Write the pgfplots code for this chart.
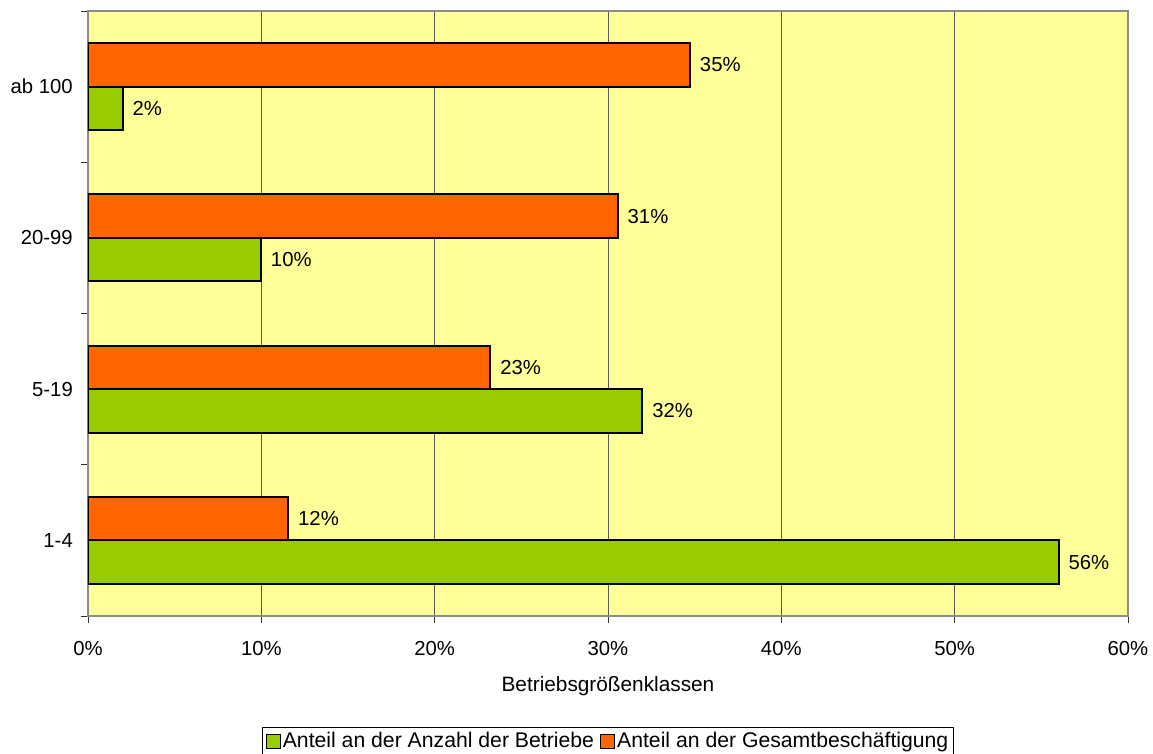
\documentclass[border=0pt]{standalone}
\usepackage{fontspec}
\setmainfont{Liberation Sans}
\usepackage{pgfplots}
\pgfplotsset{compat=1.18}

\definecolor{plotbg}{HTML}{FFFF99}
\definecolor{barGreen}{HTML}{99CC00}
\definecolor{barOrange}{HTML}{FF6600}

\begin{document}
\fontsize{20.3}{24}\selectfont
\begin{tikzpicture}
\begin{axis}[
  at={(0pt,0pt)}, anchor=south west,
  scale only axis, width=1040pt, height=605pt,
  xmin=0, xmax=60, ymin=-0.5, ymax=3.5,
  /pgf/number format/assume math mode=true,
  axis background/.style={fill=plotbg},
  axis line style={draw=black!45, line width=1.6pt},
  xtick={0,10,...,60},
  xticklabel={\pgfmathprintnumber{\tick}\%},
  xmajorgrids,
  major grid style={draw=black!65, line width=0.9pt},
  ytick={-0.5,0.5,1.5,2.5,3.5},
  y tick label as interval,
  yticklabels={1-4,5-19,20-99,ab 100},
  tick pos=left,
  tick align=outside,
  major tick length=7pt,
  tick style={draw=black!80, line width=0.9pt},
  xticklabel style={inner sep=0pt, yshift=-18pt},
  yticklabel style={inner sep=0pt, xshift=-8pt},
  xlabel={Betriebsgrößenklassen},
  xlabel style={at={(axis description cs:0.5,0)}, anchor=center, yshift=-70pt,
    font=\fontsize{20.8}{24}\selectfont},
  point meta=x,
  nodes near coords={\pgfmathprintnumber[fixed,precision=0]{\pgfplotspointmeta}\%},
  every node near coord/.append style={anchor=west, inner sep=0pt, xshift=9pt, text=black},
  legend columns=2,
  legend style={at={(axis description cs:0.5,0)}, anchor=north, yshift=-111pt,
    draw=black, line width=0.8pt, inner xsep=3pt, inner ysep=3pt,
    font=\fontsize{21.2}{25}\selectfont,
    /tikz/every even column/.append style={column sep=4pt}},
  legend cell align=left,
]
% share of establishments
\addplot[xbar, bar width=43.5pt, bar shift=-21.75pt, fill=barGreen, draw=black, line width=2pt,
  every node near coord/.append style={yshift=-21.75pt},
  legend image code/.code={\draw[fill=barGreen, draw=black, line width=1.2pt] (0pt,-7pt) rectangle (14pt,7pt);}]
  coordinates {(56.0,0) (31.98,1) (9.98,2) (2.0,3)};
\addlegendentry{Anteil an der Anzahl der Betriebe}
% share of total employment
\addplot[xbar, bar width=43.5pt, bar shift=21.75pt, fill=barOrange, draw=black, line width=2pt,
  every node near coord/.append style={yshift=21.75pt},
  legend image code/.code={\draw[fill=barOrange, draw=black, line width=1.2pt] (0pt,-7pt) rectangle (14pt,7pt);}]
  coordinates {(11.55,0) (23.21,1) (30.56,2) (34.73,3)};
\addlegendentry{Anteil an der Gesamtbeschäftigung}
\end{axis}
\pgfresetboundingbox
\useasboundingbox (-88pt,-138pt) rectangle (1065pt,616pt);
\end{tikzpicture}
\end{document}
